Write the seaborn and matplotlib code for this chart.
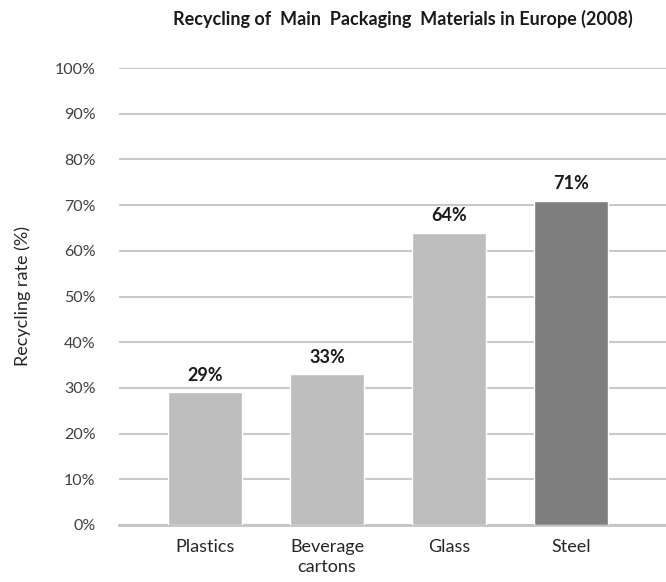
import matplotlib
matplotlib.use("Agg")
import matplotlib.pyplot as plt
import seaborn as sns
import pandas as pd
from matplotlib.ticker import FuncFormatter

materials = ["Plastics", "Beverage\ncartons", "Glass", "Steel"]
rates = [29, 33, 64, 71]
bar_colors = ["#bdbdbd", "#bdbdbd", "#bdbdbd", "#7f7f7f"]
y_ticks = list(range(0, 101, 10))

sns.set_theme(style="white")
plt.rcParams["font.family"] = ["Lato", "DejaVu Sans"]

df = pd.DataFrame({"material": materials, "rate": rates})

fig = plt.figure(figsize=(6.66, 5.82), dpi=100)
ax = fig.add_axes([119 / 666, 1 - 525 / 582, 547 / 666, (525 - 68) / 582])

sns.barplot(data=df, x="material", y="rate", hue="material",
            palette=bar_colors, width=0.6, legend=False, ax=ax,
            saturation=1, zorder=3)

ax.set_ylim(0, 100)
ax.set_xlim(-0.705, 3.779)
ax.set_yticks(y_ticks)
ax.yaxis.set_major_formatter(FuncFormatter(lambda v, _: f"{v:.0f}%"))
ax.grid(axis="y", color="#c8c8c8", linewidth=1.5, zorder=0)
ax.set_axisbelow(True)

for side in ["top", "right", "left"]:
    ax.spines[side].set_visible(False)
ax.spines["bottom"].set_color("#c4c4c4")
ax.spines["bottom"].set_linewidth(2)

ax.tick_params(axis="y", left=False, labelsize=11.5, labelcolor="#404040", pad=11)
ax.tick_params(axis="x", bottom=False, labelsize=13, labelcolor="#262626", pad=4)
for lbl in ax.get_xticklabels():
    lbl.set_linespacing(1.35)

ax.set_xlabel("")
ax.set_ylabel("Recycling rate (%)", fontsize=13, color="#262626", labelpad=17)

for i, v in enumerate(rates):
    ax.annotate(f"{v}%", (i, v), xytext=(0, 6), textcoords="offset points",
                ha="center", va="bottom", fontsize=13, fontweight="bold",
                color="#1a1a1a")

fig.text(403 / 666, 1 - 19 / 582, "Recycling of  Main  Packaging  Materials in Europe (2008)",
         ha="center", va="center", fontsize=13, fontweight="bold", color="#1a1a1a")

fig.savefig("out.png", dpi=100, facecolor="white")
